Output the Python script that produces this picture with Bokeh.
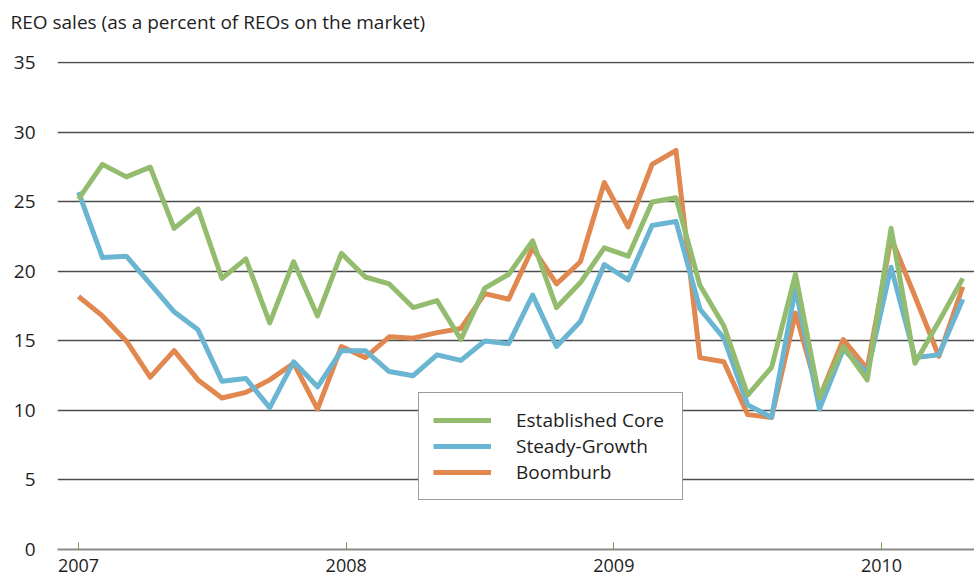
from bokeh.plotting import figure
from bokeh.models import Legend, LegendItem, FixedTicker, Range1d, Label
from bokeh.embed import file_html
from bokeh.resources import INLINE

# ---- data (index = period number, Jan 2007 = 0) ----
established_core = [25.2, 27.7, 26.8, 27.5, 23.1, 24.5, 19.5, 20.9, 16.3, 20.7, 16.8, 21.3,
                    19.6, 19.1, 17.4, 17.9, 15.1, 18.8, 19.8, 22.2, 17.4, 19.2, 21.7, 21.1,
                    25.0, 25.3, 19.0, 16.1, 11.1, 13.1, 19.8, 10.9, 14.6, 12.2, 23.1, 13.4,
                    16.4, 19.5]
steady_growth = [25.7, 21.0, 21.1, 19.1, 17.1, 15.8, 12.1, 12.3, 10.2, 13.5, 11.7, 14.3,
                 14.3, 12.8, 12.5, 14.0, 13.6, 15.0, 14.8, 18.3, 14.6, 16.4, 20.5, 19.4,
                 23.3, 23.6, 17.3, 15.2, 10.4, 9.5, 18.8, 10.1, 14.4, 12.7, 20.3, 13.8,
                 14.0, 18.0]
boomburb = [18.2, 16.8, 15.0, 12.4, 14.3, 12.2, 10.9, 11.3, 12.2, 13.4, 10.1, 14.6,
            13.8, 15.3, 15.2, 15.6, 15.9, 18.4, 18.0, 21.7, 19.1, 20.7, 26.4, 23.2,
            27.7, 28.7, 13.8, 13.5, 9.7, 9.5, 17.0, 10.9, 15.1, 13.0, 22.4, 18.2,
            13.9, 18.9]
periods = list(range(len(established_core)))

year_labels = ["2007", "2008", "2009", "2010"]
year_positions = [0, 11.2, 22.4, 33.6]
y_ticks = [0, 5, 10, 15, 20, 25, 30, 35]

series_names = ["Established Core", "Steady-Growth", "Boomburb"]
title_text = "REO sales (as a percent of REOs on the market)"
GREEN = "#93BC6F"
BLUE = "#6AB5D2"
ORANGE = "#E0884F"
TEXT = "#1e1e1e"
FONT = "Open Sans"
FS = "19px"

p = figure(frame_width=917, frame_height=488, output_backend="svg", toolbar_location=None,
           x_range=Range1d(-0.88, 37.49), y_range=Range1d(0, 35.1),
           min_border_left=57, min_border_right=0, min_border_top=61, min_border_bottom=32)
p.outline_line_color = None
p.background_fill_color = "white"
p.border_fill_color = "white"

# title as a label in the top panel
title = Label(x=-47, y=40, x_units="screen", y_units="screen", text=title_text,
              text_font=FONT, text_font_size=FS, text_color=TEXT,
              text_baseline="alphabetic", text_align="left")
p.add_layout(title, "above")

# grid
p.xgrid.grid_line_color = None
p.ygrid.ticker = FixedTicker(ticks=y_ticks)
p.ygrid.grid_line_color = "#4d4d4d"
p.ygrid.grid_line_width = 1.3

# y axis
p.yaxis.ticker = FixedTicker(ticks=y_ticks)
p.yaxis.axis_line_color = None
p.yaxis.major_tick_line_color = None
p.yaxis.minor_tick_line_color = None
p.yaxis.major_tick_out = 0
p.yaxis.major_tick_in = 0
p.yaxis.major_label_standoff = 22
p.yaxis.major_label_text_font = FONT
p.yaxis.major_label_text_font_size = FS
p.yaxis.major_label_text_color = TEXT

# x axis
p.xaxis.ticker = FixedTicker(ticks=year_positions)
p.xaxis.major_label_overrides = {pos: lab for pos, lab in zip(year_positions, year_labels)}
p.xaxis.axis_line_color = "#8a8a8a"
p.xaxis.axis_line_width = 2
p.xaxis.major_tick_in = 7
p.xaxis.major_tick_out = 0
p.xaxis.major_tick_line_color = "#6f9a45"
p.xaxis.major_tick_line_width = 1
p.xaxis.minor_tick_line_color = None
p.xaxis.major_label_standoff = 9
p.xaxis.major_label_text_font = FONT
p.xaxis.major_label_text_font_size = "18px"
p.xaxis.major_label_text_color = TEXT

r_orange = p.line(periods, boomburb, line_color=ORANGE, line_width=5, line_join="round")
r_blue = p.line(periods, steady_growth, line_color=BLUE, line_width=5, line_join="round")
r_green = p.line(periods, established_core, line_color=GREEN, line_width=5, line_join="round")

legend = Legend(items=[LegendItem(label=series_names[0], renderers=[r_green]),
                       LegendItem(label=series_names[1], renderers=[r_blue]),
                       LegendItem(label=series_names[2], renderers=[r_orange])],
                location=(361, 49))
legend.border_line_color = "#3a3a3a"
legend.border_line_width = 1
legend.background_fill_color = "white"
legend.background_fill_alpha = 1
legend.glyph_width = 58
legend.glyph_height = 20
legend.label_height = 20
legend.label_standoff = 25
legend.label_width = 152
legend.spacing = 0
legend.padding = 14
legend.margin = 0
legend.label_text_font = FONT
legend.label_text_font_size = FS
legend.label_text_color = TEXT
p.add_layout(legend, "center")

open("out.html", "w").write(file_html(p, INLINE))
